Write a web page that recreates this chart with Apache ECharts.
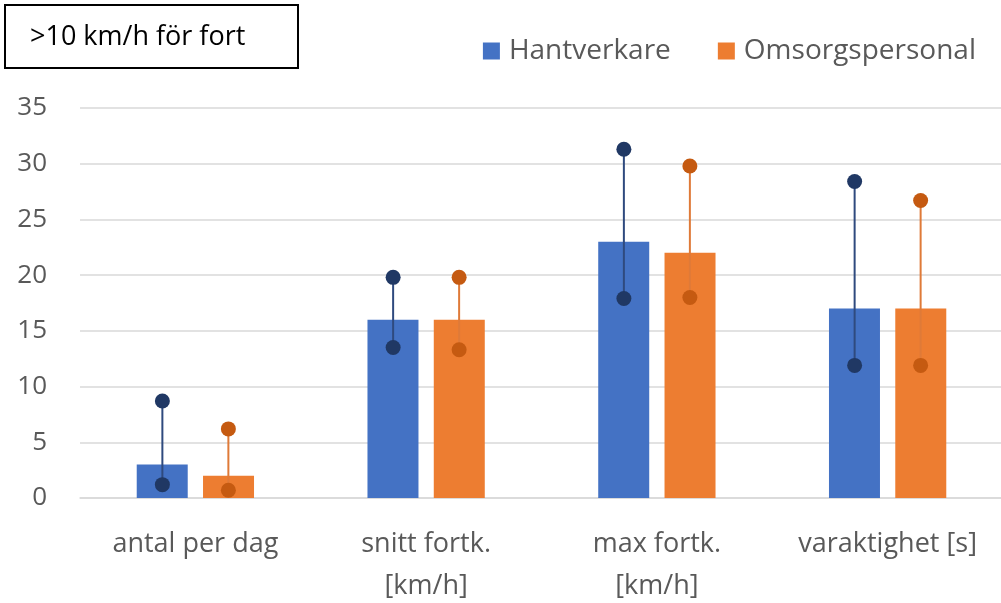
<!DOCTYPE html>
<html>
<head>
<meta charset="utf-8">
<script src="https://cdn.jsdelivr.net/npm/echarts@6/dist/echarts.min.js"></script>
<style>
  html, body { margin: 0; padding: 0; background: #fff; }
  #chart { width: 1001px; height: 603px; }
</style>
</head>
<body>
<div id="chart"></div>
<script>
// data
const categories = ['antal per dag', 'snitt fortk.\n[km/h]', 'max fortk.\n[km/h]', 'varaktighet [s]'];
const hantverkare = [3, 16, 23, 17];
const omsorg = [2, 16, 22, 17];
// lower / upper dot of each range
const hantverkareLow = [1.2, 13.5, 17.9, 11.9];
const hantverkareHigh = [8.7, 19.8, 31.3, 28.4];
const omsorgLow = [0.7, 13.3, 18.0, 11.9];
const omsorgHigh = [6.2, 19.8, 29.8, 26.7];

const FONT = 'Open Sans';
const chart = echarts.init(document.getElementById('chart'));

// a vertical line with a dot at both ends, placed over one of the two bars
function rangeSeries(name, low, high, offset, lineColor, dotColor) {
    return {
        name: name,
        type: 'custom',
        z: 5,
        encode: { x: 0, y: [1, 2] },
        data: low.map((v, i) => [i, v, high[i]]),
        renderItem: function (params, api) {
            const x = api.coord([api.value(0), 0])[0] + offset;
            const yLo = api.coord([api.value(0), api.value(1)])[1];
            const yHi = api.coord([api.value(0), api.value(2)])[1];
            return {
                type: 'group',
                children: [
                    { type: 'line', shape: { x1: x, y1: yLo, x2: x, y2: yHi }, style: { stroke: lineColor, lineWidth: 2 } },
                    { type: 'circle', shape: { cx: x, cy: yLo, r: 7.5 }, style: { fill: dotColor } },
                    { type: 'circle', shape: { cx: x, cy: yHi, r: 7.5 }, style: { fill: dotColor } }
                ]
            };
        }
    };
}

chart.setOption({
    animation: false,
    title: {
        text: '>10 km/h för fort',
        left: 25,
        top: 19,
        textStyle: { fontFamily: FONT, fontSize: 27, fontWeight: 'normal', color: '#000' }
    },
    graphic: [{
        type: 'rect',
        shape: { x: 5, y: 5, width: 293, height: 63 },
        style: { fill: 'none', stroke: '#000', lineWidth: 2 }
    }],
    legend: {
        data: ['Hantverkare', 'Omsorgspersonal'],
        right: 20,
        top: 32,
        itemWidth: 17,
        itemHeight: 17,
        itemGap: 47,
        icon: 'rect',
        textStyle: { fontFamily: FONT, fontSize: 28, color: '#595959', padding: [0, 0, 0, 4] }
    },
    grid: { left: 80, right: -2, top: 108, bottom: 105, outerBoundsMode: 'none', containLabel: false },
    xAxis: {
        type: 'category',
        data: categories,
        axisTick: { show: false },
        axisLine: { lineStyle: { color: '#d9d9d9', width: 1.5 } },
        axisLabel: { fontFamily: FONT, fontSize: 27, color: '#595959', lineHeight: 42, margin: 25, interval: 0 }
    },
    yAxis: {
        type: 'value',
        min: 0,
        max: 35,
        interval: 5,
        axisLine: { show: false },
        axisTick: { show: false },
        splitLine: { lineStyle: { color: '#d9d9d9', width: 1.5 } },
        axisLabel: { fontFamily: FONT, fontSize: 26, color: '#595959', margin: 33 }
    },
    series: [
        { name: 'Hantverkare', type: 'bar', data: hantverkare, barWidth: 51, barGap: '30%', itemStyle: { color: '#4472c4' } },
        { name: 'Omsorgspersonal', type: 'bar', data: omsorg, barWidth: 51, barGap: '30%', itemStyle: { color: '#ed7d31' } },
        rangeSeries('hLow', hantverkareLow, hantverkareHigh, -33, '#2f4a7e', '#203864'),
        rangeSeries('oLow', omsorgLow, omsorgHigh, 33, '#df7a38', '#c55a11')
    ]
});
</script>
</body>
</html>
